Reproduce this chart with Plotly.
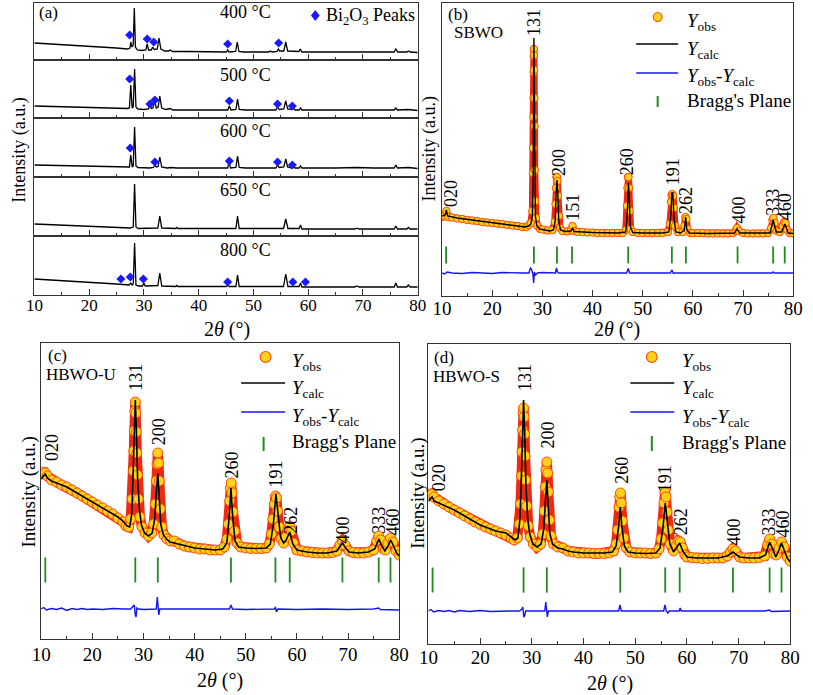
import plotly.graph_objects as go

W, H = 813, 695
FONT = "Liberation Serif, Times New Roman, serif"

# ---------------- Panel (a): XRD patterns at different temperatures ----------------
temps = ["400 °C", "500 °C", "600 °C", "650 °C", "800 °C"]

pat_400 = [(10,17),(15,15.5),(20,14),(25,12),(27.0,11),(27.45,12),(27.6,18),(27.8,13),(28.05,15),(28.25,52),
           (28.45,13),(28.8,10),(29.6,9.5),(30.35,10),(30.6,16),(30.85,10),(31.35,10),(31.6,13),(31.9,10.5),
           (32.45,11),(32.75,22),(33.1,11),(33.8,9),(34.5,9),(34.8,10),(35.2,8.5),(38,8.5),(42,8),(45.05,8),
           (45.3,10),(45.55,8),(46.75,8.5),(47.05,18),(47.35,8.5),(48.2,8),(52.8,8),(53.1,9),(53.4,8),(54.3,8.5),
           (54.55,11),(54.8,9),(55.55,9),(55.9,18),(56.25,9),(57.2,8.5),(58.3,8.5),(58.55,11),(58.85,8),(63,8),
           (68.5,8),(68.9,8.5),(69.3,8),(75.7,8),(76.0,11),(76.35,8),(78.0,8),(78.3,9),(78.6,8),(80,7.5)]
pat_500 = [(10,12),(15,11.2),(20,10.5),(25,10),(27.0,9.5),(27.35,10),(27.6,33),(27.85,10),(28.05,11),(28.3,49),
           (28.55,11),(28.9,9),(30.0,8.5),(30.85,9),(31.1,14),(31.35,9.5),(31.65,10),(31.95,18),(32.25,10),
           (32.6,11),(32.9,22),(33.25,10),(34.0,8.5),(34.8,9.5),(35.3,8),(40,8),(45.3,8),(45.6,12),(45.9,8),
           (46.8,8.5),(47.1,19),(47.4,8.5),(48.5,8),(53,8),(54.1,8),(54.4,11),(54.7,8.5),(55.55,9),(55.9,17),
           (56.25,9),(57.0,8.5),(57.3,10),(57.6,8),(58.35,8),(58.6,10),(58.85,8),(65,8),(68.9,8.5),(72,8),
           (75.7,8),(76.0,10),(76.3,8),(78.3,8.5),(80,7.5)]
pat_600 = [(10,12),(15,11.3),(20,10.7),(25,10),(27.0,9.5),(27.35,10),(27.6,22),(27.85,10),(28.05,11),(28.3,50),
           (28.55,11),(28.9,9.5),(31.0,9),(31.75,9.5),(32.0,12),(32.25,10),(32.6,10.5),(32.9,20),(33.25,10),
           (34.2,9),(35.0,9.5),(36,9),(40,9),(45.3,9),(45.55,16),(45.8,9),(46.8,9.5),(47.1,21),(47.4,9.5),
           (48.5,9),(54.1,9),(54.4,12),(54.7,9.5),(55.55,10),(55.9,18),(56.25,10),(57.0,9),(57.3,10),(57.6,9),
           (58.35,9),(58.6,11),(58.85,9),(65,9),(68.9,9.5),(72,9),(75.7,9),(76.0,12),(76.3,9),(78.3,9.5),(80,8.5)]
pat_650 = [(10,12),(15,11),(20,10),(25,9),(27.5,8),(28.05,9),(28.3,52),(28.55,9),(29,7.5),(32.55,8),(32.9,20),
           (33.25,8),(35.8,7.5),(36.0,8.5),(36.2,7.5),(46.8,7.5),(47.1,20),(47.4,7.5),(55.5,7.5),(55.9,17),
           (56.3,7.5),(58.35,7.5),(58.6,11),(58.85,7),(68.5,7),(68.9,7.8),(69.3,7),(75.7,7),(76.0,10),(76.3,7),
           (78.0,7),(78.3,8.5),(78.6,7),(80,7)]
pat_800 = [(10,16),(15,14.5),(20,13),(25,11),(27.3,10),(27.6,12),(27.85,10),(28.05,11),(28.3,52),(28.55,10),
           (29.0,9),(29.75,9),(30.0,12),(30.25,9),(32.55,9.5),(32.9,22),(33.25,9),(35.8,8.5),(36.0,9.5),(36.2,8.5),
           (45.0,8.5),(45.3,9.5),(45.6,8.5),(46.8,8.5),(47.1,20),(47.4,8.5),(55.5,8.5),(55.9,21),(56.3,8.5),
           (58.35,8.5),(58.6,12),(58.85,8),(68.5,8),(68.9,9),(69.3,8),(75.7,8),(76.0,12),(76.3,8),(78.0,8),
           (78.3,10),(78.6,8),(80,8)]
patterns_a = [pat_400, pat_500, pat_600, pat_650, pat_800]

# Bi2O3 peak markers (2theta, height) for each temperature
bi_400 = [(27.4,25),(30.6,21),(31.8,18),(45.3,16),(54.6,17)]
bi_500 = [(27.4,39),(31.1,14),(32.0,18),(45.6,17),(54.4,14),(57.1,12)]
bi_600 = [(27.5,29),(32.0,15),(45.6,16),(54.4,15),(57.1,12)]
bi_650 = []
bi_800 = [(25.8,16),(27.5,18),(29.9,16),(45.3,13),(57.2,13),(59.5,13)]
bi_marks = [bi_400, bi_500, bi_600, bi_650, bi_800]
temp_label_y = [48, 43, 46, 46, 45.5]

# ---------------- Panel (b): SBWO refinement ----------------
b_obs = [(10,79),(10.5,80),(10.85,85),(11.2,79),(12,78.5),(13,77.5),(14,77),(15,76),(16,75.5),(17,75),(18,74),
         (19,73.5),(20,73),(21,72.5),(22,72),(23,71),(24,70.5),(25,70),(26,69),(26.8,69),(27.3,71),(27.7,73),
         (28.0,85),(28.1,123),(28.15,148),(28.2,179),(28.22,198),(28.25,224),(28.28,240),(28.3,247),(28.33,241),
         (28.36,226),(28.4,198),(28.43,170),(28.47,126),(28.55,95),(28.7,78),(29,70),(29.5,67),(30,66.5),
         (31,65.5),(32,66),(32.45,74),(32.6,92),(32.7,108),(32.8,119),(32.9,119),(33.0,115),(33.1,100),
         (33.25,80),(33.5,68),(34,65),(35,64.5),(35.7,66),(36.0,70),(36.3,65),(37,64),(38,64),(39,63.5),
         (40,63.5),(41,63),(42,63),(43,63),(44,63),(45,63),(46,63),(46.6,66),(46.85,90),(46.95,108),
         (47.05,119),(47.15,119),(47.25,108),(47.4,85),(47.6,67),(48,64),(49,63),(50,63),(51,63),(52,63),
         (53,63),(54,63),(55,64),(55.4,72),(55.6,94),(55.75,101),(55.9,102),(56.05,100),(56.2,88),(56.45,70),
         (57,64),(58,64),(58.3,70),(58.5,79),(58.7,77),(58.9,67),(59.5,63),(60,63),(61,63),(62,63),(63,62.5),
         (64,62.5),(65,62.5),(66,62.5),(67,62.5),(68,63),(68.5,65),(68.8,68),(69.2,65),(70,63),(71,62.5),
         (72,62.5),(73,62.5),(74,62.5),(75,63),(75.6,68),(75.85,76),(76.05,78),(76.3,73),(76.7,65),(77.3,64),
         (77.9,70),(78.2,74),(78.45,73),(78.8,66),(79.3,63),(80,62.5)]
b_calc = [(10,80),(10.6,81),(10.85,86),(11.1,80),(13,78),(15,76.5),(17,75),(20,73.5),(22,72),(25,70),(26.5,69),
          (27.2,70),(27.7,72),(28.0,80),(28.15,120),(28.3,258),(28.45,120),(28.6,80),(28.9,70),(29.5,67),
          (30.5,66),(31.5,65),(32.2,66),(32.55,75),(32.75,105),(32.9,116),(33.05,105),(33.25,75),(33.6,66),
          (34.5,64.5),(35.7,65),(36.0,68),(36.3,64.5),(37.5,64),(40,63.5),(45,63),(46.6,64),(46.9,80),
          (47.05,110),(47.15,113),(47.3,100),(47.5,70),(48,63.5),(50,63),(54,63),(55.2,64),(55.6,80),
          (55.8,103),(56.0,103),(56.2,80),(56.6,64),(57.5,63),(58.3,66),(58.55,79),(58.8,66),(59.3,63),
          (63,62.5),(68.3,63),(68.8,67),(69.3,63),(75.4,63),(75.8,72),(76.0,76),(76.2,72),(76.6,64),(77.7,64),
          (78.1,70),(78.3,72),(78.5,70),(79.0,63),(80,62.5)]
b_diff = [(10,23),(10.5,22),(11,24),(12,23),(14,22.5),(16,23.5),(18,23),(20,22.5),(22,23.5),(24,23),(26,23),
          (27.3,23),(27.6,28),(27.8,27),(28.1,22),(28.25,13),(28.4,24),(28.6,21),(29,23),(30,23.5),(32,23),
          (32.6,23),(32.8,28),(33.0,24),(33.3,23),(36,23),(40,23),(46.8,23),(47.1,27.5),(47.4,23),(50,23),
          (55.5,23),(55.8,26),(56.1,22.5),(56.5,23),(60,23),(65,23),(70,23),(75.8,23),(76,24),(76.3,23),(80,23)]
b_bragg = [10.8, 28.3, 32.9, 35.9, 47.1, 55.8, 58.6, 68.9, 76.0, 78.3]
b_hkl = [("020",11.75,103),("131",28.3,274),("200",33.3,134),("151",36.05,89),("260",46.9,134),
         ("191",56.1,124),("262",58.6,96),("400",69.1,86),("333",75.9,94),("460",78.4,89)]

# ---------------- Panel (c): HBWO-U refinement ----------------
c_obs = [(10,165),(10.4,167),(10.8,166),(11.2,163),(12,159),(13,157),(14,154),(15,152),(16,149),(17,146),(18,143),
         (19,140),(20,137),(21,134),(22,131),(23,128),(24,125),(25,121),(26,117),(26.6,113),(27.1,112),(27.5,120),
         (27.8,140),(28.0,168),(28.1,188),(28.2,208),(28.3,228),(28.4,237),(28.5,226),(28.6,207),(28.7,186),
         (28.8,164),(29.0,140),(29.3,122),(29.7,112),(30.3,106),(31.0,103),(31.6,106),(32.0,115),(32.3,135),
         (32.5,158),(32.65,175),(32.8,186),(32.95,176),(33.1,158),(33.3,130),(33.6,112),(34.0,104),(34.6,100),
         (35.3,98),(36.0,98),(37,95),(38,93),(39,92),(40,91),(41,90),(42,90),(43,89),(44,89),(45,89),(45.8,92),
         (46.3,100),(46.6,115),(46.85,138),(47.0,151),(47.15,156),(47.3,146),(47.5,127),(47.8,108),(48.3,96),
         (49,92),(50,91),(51,90.5),(52,90.5),(53,90.5),(54,91),(54.6,95),(55.0,105),(55.3,120),(55.6,135),
         (55.8,143),(56.0,141),(56.2,128),(56.5,112),(56.9,100),(57.4,96),(57.9,102),(58.3,110),(58.6,113),
         (58.9,108),(59.3,96),(60,89),(61,88),(62,87),(63,86.5),(64,86),(65,86),(66,86),(67,86.5),(67.8,88),
         (68.4,94),(68.9,98),(69.4,94),(70.2,88),(71,86.5),(72,86),(73,86),(74,87),(75,89),(75.6,98),(76.0,103),
         (76.4,99),(76.9,90),(77.3,89),(77.8,96),(78.3,101),(78.8,97),(79.4,88),(80,84)]
c_calc = [(10,160),(10.5,163),(10.8,165),(11.2,161),(12,158),(13,156),(14,154),(15,152),(16,149),(17,146),(18,143),
          (19,140),(20,137),(21,134),(22,131),(23,128),(24,125),(25,122),(26,118),(26.8,113),(27.3,112),(27.7,125),
          (28.0,170),(28.2,215),(28.4,239),(28.6,210),(28.85,160),(29.2,130),(29.6,114),(30.2,106),(31.0,103),
          (31.7,106),(32.2,120),(32.5,145),(32.8,166),(33.1,140),(33.4,114),(33.9,104),(34.5,100),(35.2,97),
          (36.0,96),(37,94),(38,93),(40,91),(42,90),(44,89),(45.5,90),(46.3,96),(46.8,125),(47.1,151),(47.4,125),
          (47.9,98),(48.6,92),(50,91),(52,90.5),(54,91),(54.8,95),(55.4,115),(55.9,145),(56.3,125),(56.8,102),
          (57.4,96),(57.9,99),(58.6,107),(59.2,95),(60,89),(62,87),(64,86),(66,86),(67.8,88),(68.5,93),(68.9,96),
          (69.4,92),(70.2,87),(72,86),(74,87),(75.2,90),(75.7,96),(76.05,100),(76.5,94),(77.2,88),(77.8,93),
          (78.35,99),(78.9,93),(79.5,86),(80,83)]
c_diff = [(10,30),(10.5,31.5),(11,29),(12,30.5),(13,29.5),(14,31),(15,28.5),(16,30.5),(17,29.5),(18,30.5),
          (19,29.5),(20,30),(22,29.5),(24,30.5),(26,30),(27.5,30),(28.0,33),(28.2,34),(28.4,24),(28.55,22),
          (28.7,31),(29,30),(30,29.5),(31,30),(32.5,30),(32.7,42),(32.85,26),(33.0,24),(33.2,30),(35,30),
          (40,29.5),(45,30),(46.8,30),(47.1,34),(47.4,30),(50,29.5),(55.6,30),(55.8,32),(56.0,27),(56.3,30),
          (60,29.5),(65,30),(70,29.5),(75,30),(76,31),(76.3,29.5),(80,29)]
c_bragg = [10.8, 28.4, 32.8, 47.1, 55.8, 58.6, 68.9, 76.0, 78.3]
c_hkl = [("020",12.1,192),("131",28.5,262),("200",33.1,207),("260",47.4,174),("191",56.0,165),
         ("262",58.8,119),("400",69.1,109),("333",76.0,119),("460",78.7,117)]

# ---------------- Panel (d): HBWO-S refinement ----------------
d_obs = [(10,148),(10.4,150),(10.7,150),(11.1,147),(12,143),(13,140),(14,137),(15,134),(16,131),(17,128),(18,125),
         (19,122),(20,119.5),(21,117),(22,115),(23,113),(24,111),(25,109),(26,106),(26.6,104),(27.2,106),(27.6,120),
         (27.8,140),(28.0,168),(28.1,192),(28.2,214),(28.3,231),(28.4,236),(28.5,227),(28.6,210),(28.7,188),
         (28.8,164),(29.0,138),(29.3,118),(29.7,107),(30.3,100),(31.0,97),(31.7,100),(32.1,110),(32.4,133),
         (32.6,157),(32.75,174),(32.9,182),(33.05,171),(33.2,152),(33.4,124),(33.7,108),(34.2,100),(35,97),
         (36,96),(37,93),(38,92),(39,91),(40,91),(41,91),(42,90.5),(43,90.5),(44,90.5),(45,91),(45.8,93),
         (46.3,100),(46.6,114),(46.85,137),(47.0,147),(47.15,151),(47.3,141),(47.5,123),(47.8,106),(48.3,96),
         (49,92),(50,91),(51,91),(52,91),(53,90.5),(54,91),(54.6,95),(55.0,105),(55.3,121),(55.55,141),
         (55.75,152),(55.95,147),(56.15,132),(56.4,114),(56.8,100),(57.4,93),(58.0,99),(58.4,103),(58.7,102),
         (59.1,96),(59.6,89),(60,87),(61,86.5),(62,86),(63,85.5),(64,85.5),(65,86),(66,86),(67,86),(67.8,88),
         (68.4,92),(68.9,95),(69.4,93),(70.2,87),(71,86),(72,86),(73,86),(74,86.5),(75,88),(75.6,99),(76.0,105),
         (76.4,100),(76.9,90),(77.3,89),(77.8,96),(78.3,102),(78.8,97),(79.4,87),(80,83)]
d_calc = [(10,143),(10.4,146),(10.7,147),(11.1,143),(12,141),(13,139),(14,137),(15,134),(16,131),(17,128),(18,125),
          (19,122),(20,119),(21,117),(22,115),(23,113),(24,112),(25,111),(26,107),(26.8,104),(27.3,106),(27.7,125),
          (28.0,170),(28.2,220),(28.4,244),(28.6,215),(28.85,160),(29.2,125),(29.6,110),(30.2,100),(31.0,97),
          (31.8,100),(32.3,115),(32.6,140),(32.9,164),(33.2,135),(33.5,110),(34.0,100),(35,96),(36,95),(37,93),
          (38,92),(40,91),(42,91),(44,91),(45.6,92),(46.3,98),(46.8,118),(47.1,137),(47.4,118),(47.9,98),
          (48.6,92),(50,91),(52,90.5),(54,91),(54.8,96),(55.4,118),(55.8,141),(56.2,120),(56.7,100),(57.4,92),
          (58.0,96),(58.6,101),(59.2,93),(60,87),(62,86),(64,86),(66,86),(67.8,88),(68.5,90),(68.9,92),(69.4,90),
          (70.2,87),(72,86),(74,86),(75.2,89),(75.7,97),(76.0,102),(76.5,96),(77.2,87),(77.8,94),(78.3,101),
          (78.8,94),(79.4,86),(80,82)]
d_diff = [(10,33),(10.5,34.5),(11,32),(12,33.5),(13,32.5),(14,33.5),(15,32),(16,33.5),(18,32.5),(20,33.5),
          (22,32.5),(24,33),(26,33),(27.6,33),(28.1,35),(28.25,37),(28.45,27),(28.6,28),(28.8,33),(30,33),
          (32.5,33),(32.7,42),(32.85,30),(33.0,27),(33.2,33),(36,33),(40,33),(46.8,33),(47.05,39),(47.3,33),
          (50,33),(55.5,33),(55.75,39),(56.0,33),(56.3,31),(56.6,33),(58.5,33),(58.7,36),(58.9,33),(65,33),
          (70,33),(75,33),(76,34),(76.3,32.5),(80,33)]
d_bragg = [10.8, 28.4, 32.9, 47.1, 55.8, 58.6, 68.9, 76.0, 78.3]
d_hkl = [("020",12.1,166),("131",28.7,266),("200",33.2,209),("260",47.4,174),("191",55.8,165),
         ("262",58.9,122),("400",69.2,112),("333",75.8,122),("460",78.5,120)]

# ---------------- layout geometry (pixels) ----------------
def fx(px):
    return px / W

def fy(py):
    return 1 - py / H

a_left, a_right = 25, 418
a_tops = [3, 60, 118, 177, 236]
a_bots = [60, 118, 177, 236, 295]

panels = {
    6: dict(l=443, r=803, t=3, b=296, name="SBWO", tag="(b)", obs=b_obs, calc=b_calc, diff=b_diff,
            bragg=b_bragg, hkl=b_hkl, bragg_y=41, bragg_len=12, ms=7.5, band=7, lw=1.4, tso=-5),
    7: dict(l=32, r=399, t=343, b=639, name="HBWO-U", tag="(c)", obs=c_obs, calc=c_calc, diff=c_diff,
            bragg=c_bragg, hkl=c_hkl, bragg_y=69, bragg_len=18, ms=10, band=10, lw=1.6, tso=-2),
    8: dict(l=429, r=800, t=344, b=644, name="HBWO-S", tag="(d)", obs=d_obs, calc=d_calc, diff=d_diff,
            bragg=d_bragg, hkl=d_hkl, bragg_y=64, bragg_len=18, ms=10, band=10, lw=1.6, tso=-4),
}

OBS_FILL = "#ffd21a"
OBS_EDGE = "#ff4a14"
BAND = "#f02a10"
GREEN = "#1f8a1f"
BLUE = "#1414f0"
AXC = "#333333"

fig = go.Figure()
layout = dict(width=W, height=H, margin=dict(l=0, r=0, t=0, b=0), paper_bgcolor="white",
              plot_bgcolor="white", showlegend=False, font=dict(family=FONT, color="black"))

def axname(n, kind):
    return kind if n == 1 else f"{kind}{n}"

def xaxis_cfg(n, dom, labels, tsize, tso):
    return dict(domain=dom, range=[10, 80], anchor=axname(n, "y"), showline=True, linecolor=AXC,
                linewidth=1.1, mirror=True, ticks="inside", ticklen=6, tickwidth=1, tickcolor=AXC,
                dtick=10, tick0=10, showticklabels=labels, showgrid=False, zeroline=False,
                ticklabelstandoff=tso,
                tickfont=dict(family=FONT, size=tsize, color="black"),
                minor=dict(ticks="inside", ticklen=3, dtick=5, tick0=10, tickcolor=AXC, showgrid=False))

def yaxis_cfg(n, dom, rng):
    return dict(domain=dom, range=rng, anchor=axname(n, "x"), showline=True, linecolor=AXC,
                linewidth=1.1, mirror=True, ticks="", showticklabels=False, showgrid=False, zeroline=False)

annotations = []
shapes = []

# Panel (a)
for i in range(5):
    n = i + 1
    hgt = a_bots[i] - a_tops[i]
    layout["xaxis" + ("" if n == 1 else str(n))] = xaxis_cfg(n, [fx(a_left), fx(a_right)], n == 5, 17, -5)
    layout["yaxis" + ("" if n == 1 else str(n))] = yaxis_cfg(n, [fy(a_bots[i]), fy(a_tops[i])], [0, hgt])
    xs, ys = zip(*patterns_a[i])
    fig.add_trace(go.Scatter(x=xs, y=ys, mode="lines", line=dict(color="black", width=1.3),
                             xaxis=axname(n, "x"), yaxis=axname(n, "y")))
    if bi_marks[i]:
        bx, by = zip(*bi_marks[i])
        fig.add_trace(go.Scatter(x=bx, y=by, mode="markers",
                                 marker=dict(symbol="diamond", size=7, color="#1a1aff"),
                                 xaxis=axname(n, "x"), yaxis=axname(n, "y")))
    annotations.append(dict(text=temps[i], x=48.5, y=temp_label_y[i], xref=axname(n, "x"),
                            yref=axname(n, "y"), showarrow=False, xanchor="center", yanchor="middle",
                            font=dict(family=FONT, size=18, color="black")))

annotations.append(dict(text="(a)", x=fx(28), y=fy(13), xref="paper", yref="paper", showarrow=False,
                        xanchor="left", yanchor="middle", font=dict(family=FONT, size=17)))
# legend (a)
dx, dy = 313, 15.5
shapes.append(dict(type="path", xref="paper", yref="paper",
                   path=f"M {fx(dx)},{fy(dy-5.5)} L {fx(dx+4.5)},{fy(dy)} L {fx(dx)},{fy(dy+5.5)} L {fx(dx-4.5)},{fy(dy)} Z",
                   fillcolor="#1a1aff", line=dict(width=0)))
annotations.append(dict(text="Bi<sub>2</sub>O<sub>3</sub> Peaks", x=fx(322), y=fy(16.5), xref="paper",
                        yref="paper", showarrow=False, xanchor="left", yanchor="middle",
                        font=dict(family=FONT, size=18)))
annotations.append(dict(text="2<i>θ</i> (°)", x=fx(222), y=fy(329), xref="paper", yref="paper",
                        showarrow=False, xanchor="center", yanchor="middle", font=dict(family=FONT, size=20)))
annotations.append(dict(text="Intensity (a.u.)", x=fx(9), y=fy(150), xref="paper", yref="paper",
                        showarrow=False, textangle=-90, xanchor="center", yanchor="middle",
                        font=dict(family=FONT, size=18)))

# Panels (b), (c), (d)
xt_pos = {6: (622, 329), 7: (215, 680), 8: (615, 683)}
yt_pos = {6: (431, 149), 7: (19, 492), 8: (418, 493)}
tag_pos = {6: ((447, 15), (453, 33)), 7: ((37, 355), (35, 374)), 8: ((433, 357), (432, 376))}
leg = {6: dict(mx=664, my=17, l0=642, l1=685, ly=[44, 73], tx=(664, 96, 107), txt=692,
               rows=[21.5, 50, 77.5, 100.5], r=4.5),
       7: dict(mx=262, my=357, l0=237, l1=282, ly=[383, 412], tx=(260, 437, 451), txt=287,
               rows=[361.5, 388.5, 416.5, 441], r=5.5),
       8: dict(mx=658, my=357, l0=636, l1=681, ly=[383, 412], tx=(658, 436, 451), txt=687,
               rows=[361.5, 389, 418, 442], r=5.5)}

for n, p in panels.items():
    hgt = p["b"] - p["t"]
    xa, ya = axname(n, "x"), axname(n, "y")
    layout[f"xaxis{n}"] = xaxis_cfg(n, [fx(p["l"]), fx(p["r"])], True, 19, p["tso"])
    layout[f"yaxis{n}"] = yaxis_cfg(n, [fy(p["b"]), fy(p["t"])], [0, hgt])
    ox, oy = zip(*p["obs"])
    fig.add_trace(go.Scatter(x=ox, y=oy, mode="lines+markers", xaxis=xa, yaxis=ya,
                             line=dict(color=BAND, width=p["band"]),
                             marker=dict(size=p["ms"], color=OBS_FILL, line=dict(color=OBS_EDGE, width=1))))
    cx, cy = zip(*p["calc"])
    fig.add_trace(go.Scatter(x=cx, y=cy, mode="lines", xaxis=xa, yaxis=ya,
                             line=dict(color="black", width=p["lw"])))
    dfx, dfy = zip(*p["diff"])
    fig.add_trace(go.Scatter(x=dfx, y=dfy, mode="lines", xaxis=xa, yaxis=ya,
                             line=dict(color=BLUE, width=1.4)))
    fig.add_trace(go.Scatter(x=p["bragg"], y=[p["bragg_y"]] * len(p["bragg"]), mode="markers",
                             xaxis=xa, yaxis=ya,
                             marker=dict(symbol="line-ns", size=p["bragg_len"],
                                         line=dict(color=GREEN, width=1.8))))
    for lab, hx, hy in p["hkl"]:
        annotations.append(dict(text=lab, x=hx, y=hy, xref=xa, yref=ya, showarrow=False, textangle=-90,
                                xanchor="center", yanchor="middle", font=dict(family=FONT, size=18)))
    (tx1, ty1), (tx2, ty2) = tag_pos[n]
    annotations.append(dict(text=p["tag"], x=fx(tx1), y=fy(ty1), xref="paper", yref="paper",
                            showarrow=False, xanchor="left", yanchor="middle", font=dict(family=FONT, size=17)))
    annotations.append(dict(text=p["name"], x=fx(tx2), y=fy(ty2), xref="paper", yref="paper",
                            showarrow=False, xanchor="left", yanchor="middle", font=dict(family=FONT, size=17)))
    xtx, xty = xt_pos[n]
    annotations.append(dict(text="2<i>θ</i> (°)", x=fx(xtx), y=fy(xty), xref="paper", yref="paper",
                            showarrow=False, xanchor="center", yanchor="middle", font=dict(family=FONT, size=20)))
    ytx, yty = yt_pos[n]
    annotations.append(dict(text="Intensity (a.u.)", x=fx(ytx), y=fy(yty), xref="paper", yref="paper",
                            showarrow=False, textangle=-90, xanchor="center", yanchor="middle",
                            font=dict(family=FONT, size=18 if n == 6 else 19)))
    # legend
    g = leg[n]
    r = g["r"]
    shapes.append(dict(type="circle", xref="paper", yref="paper", x0=fx(g["mx"] - r), x1=fx(g["mx"] + r),
                       y0=fy(g["my"] + r), y1=fy(g["my"] - r), fillcolor=OBS_FILL,
                       line=dict(color=OBS_EDGE, width=1.2)))
    shapes.append(dict(type="line", xref="paper", yref="paper", x0=fx(g["l0"]), x1=fx(g["l1"]),
                       y0=fy(g["ly"][0]), y1=fy(g["ly"][0]), line=dict(color="black", width=1.6)))
    shapes.append(dict(type="line", xref="paper", yref="paper", x0=fx(g["l0"]), x1=fx(g["l1"]),
                       y0=fy(g["ly"][1]), y1=fy(g["ly"][1]), line=dict(color=BLUE, width=1.6)))
    tx_, t0, t1 = g["tx"]
    shapes.append(dict(type="line", xref="paper", yref="paper", x0=fx(tx_), x1=fx(tx_),
                       y0=fy(t0), y1=fy(t1), line=dict(color=GREEN, width=2)))
    texts = ["<i>Y</i><sub>obs</sub>", "<i>Y</i><sub>calc</sub>",
             "<i>Y</i><sub>obs</sub>-<i>Y</i><sub>calc</sub>", "Bragg's Plane"]
    for t, ry in zip(texts, g["rows"]):
        annotations.append(dict(text=t, x=fx(g["txt"]), y=fy(ry), xref="paper", yref="paper",
                                showarrow=False, xanchor="left", yanchor="middle",
                                font=dict(family=FONT, size=19)))

layout["annotations"] = annotations
layout["shapes"] = shapes
fig.update_layout(**layout)
fig.write_html("out.html")
